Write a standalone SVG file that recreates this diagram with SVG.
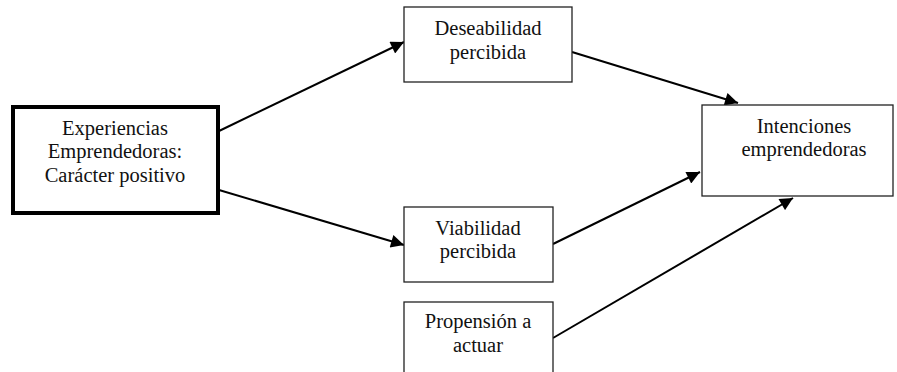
<svg xmlns="http://www.w3.org/2000/svg" width="897" height="372" viewBox="0 0 897 372">
  <style>
    .box { fill: #fff; stroke: #222; stroke-width: 1.3; }
    .thick { fill: #fff; stroke: #000; stroke-width: 4; }
    .lbl { font-family: "Liberation Serif", "Times New Roman", serif; font-size: 20.5px; fill: #111; text-anchor: middle; }
    .edge { stroke: #000; stroke-width: 2; fill: none; marker-end: url(#arrow); }
  </style>
  <defs>
    <marker id="arrow" viewBox="0 0 10 10" refX="10" refY="5" markerWidth="8" markerHeight="6.5" markerUnits="strokeWidth" orient="auto">
      <path d="M0,0 L10,5 L0,10 z" fill="#000"/>
    </marker>
  </defs>

  <rect width="897" height="372" fill="#fff"/>

  <g id="connectors">
    <line class="edge" x1="219" y1="131" x2="404" y2="42"/>
    <line class="edge" x1="219" y1="190" x2="404" y2="245"/>
    <line class="edge" x1="572" y1="52" x2="738" y2="103"/>
    <line class="edge" x1="553" y1="244" x2="700" y2="172"/>
    <line class="edge" x1="553" y1="338" x2="793" y2="198"/>
  </g>

  <g id="experiencias">
    <rect class="thick" x="13" y="107" width="205" height="106"/>
    <text class="lbl" x="115" y="135">Experiencias</text>
    <text class="lbl" x="115" y="158">Emprendedoras:</text>
    <text class="lbl" x="115" y="182">Carácter positivo</text>
  </g>

  <g id="deseabilidad">
    <rect class="box" x="404" y="7" width="168" height="75"/>
    <text class="lbl" x="488" y="35">Deseabilidad</text>
    <text class="lbl" x="488" y="59">percibida</text>
  </g>

  <g id="viabilidad">
    <rect class="box" x="404" y="207" width="149" height="75"/>
    <text class="lbl" x="478" y="235">Viabilidad</text>
    <text class="lbl" x="478" y="258">percibida</text>
  </g>

  <g id="propension">
    <rect class="box" x="404" y="302" width="149" height="80"/>
    <text class="lbl" x="478" y="328">Propensión a</text>
    <text class="lbl" x="478" y="352">actuar</text>
  </g>

  <g id="intenciones">
    <rect class="box" x="702" y="105" width="191" height="91"/>
    <text class="lbl" x="804" y="133">Intenciones</text>
    <text class="lbl" x="804" y="156">emprendedoras</text>
  </g>
</svg>
